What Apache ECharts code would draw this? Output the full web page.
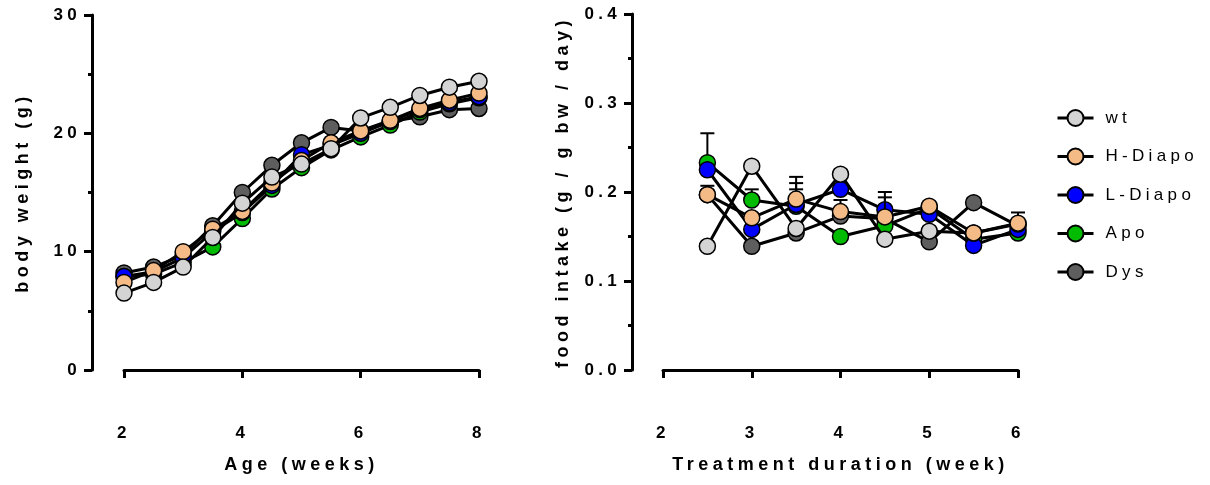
<!DOCTYPE html>
<html><head><meta charset="utf-8">
<script src="https://cdn.jsdelivr.net/npm/echarts@6/dist/echarts.min.js"></script>
<style>html,body{margin:0;padding:0;background:#fff}#c{width:1210px;height:485px}</style>
</head><body><div id="c"></div>
<script>
// letter spacing like the original (Prism-style spaced text)
(function(){
  const p = CanvasRenderingContext2D.prototype, f = p.fillText;
  p.fillText = function(t,x,y,m){
    const o = this.letterSpacing;
    const mm = /(\d+(?:\.\d+)?)px/.exec(this.font || '');
    const s = mm ? parseFloat(mm[1]) : 12;
    try { this.letterSpacing = (s*0.25).toFixed(1)+'px'; } catch(e){}
    const r = m === undefined ? f.call(this,t,x,y) : f.call(this,t,x,y,m);
    try { this.letterSpacing = o; } catch(e){}
    return r;
  };
})();

const groups = ['wt','H-Diapo','L-Diapo','Apo','Dys'];
const colors = ['#d4d4d4','#f5bb86','#0000ff','#00bb00','#5e5e5e'];

const ageWeeks = [2,2.5,3,3.5,4,4.5,5,5.5,6,6.5,7,7.5,8];
const bw_wt = [6.5,7.4,8.7,11.2,14.1,16.3,17.4,18.7,21.3,22.2,23.2,23.9,24.4];
const bw_H  = [7.4,8.4,10.0,11.9,13.4,15.8,17.7,19.2,20.2,21.1,22.1,22.8,23.4];
const bw_L  = [7.9,8.3,9.5,11.7,13.3,15.6,18.2,19.0,20.0,21.0,22.0,22.6,23.1];
const bw_A  = [7.9,8.1,9.1,10.4,12.8,15.3,17.1,18.6,19.7,20.7,21.8,22.5,23.0];
const bw_D  = [8.2,8.7,9.7,12.2,15.0,17.3,19.2,20.5,20.2,21.0,21.4,22.0,22.1];

const treatWeeks = [2.5,3,3.5,4,4.5,5,5.5,6];
const fi_wt = [0.139,0.229,0.159,0.220,0.147,0.156,0.154,0.164];
const fi_H  = [0.197,0.171,0.192,0.178,0.172,0.184,0.154,0.165];
const fi_L  = [0.225,0.158,0.186,0.203,0.180,0.175,0.140,0.158];
const fi_A  = [0.233,0.191,0.184,0.150,0.162,0.182,0.147,0.154];
const fi_D  = [0.197,0.139,0.154,0.173,0.170,0.144,0.188,0.162];
// SEM (upper error bars)
const sem_wt = [0.005,0.005,0.005,0.005,0.005,0.005,0.005,0.005];
const sem_H  = [0.010,0.005,0.025,0.013,0.022,0.005,0.005,0.012];
const sem_L  = [0.005,0.005,0.017,0.005,0.020,0.005,0.005,0.005];
const sem_A  = [0.033,0.012,0.026,0.005,0.005,0.005,0.005,0.005];
const sem_D  = [0.005,0.005,0.005,0.005,0.005,0.005,0.005,0.005];

const yTicksLeft = [0,10,20,30];
const yTicksRight = ['0.0','0.1','0.2','0.3','0.4'];

const bwAll = [bw_wt,bw_H,bw_L,bw_A,bw_D];
const fiAll = [fi_wt,fi_H,fi_L,fi_A,fi_D];
const semAll = [sem_wt,sem_H,sem_L,sem_A,sem_D];

const FONT = 'Liberation Sans, Arial, sans-serif';
const zLeft = [10,9,8,7,6];
const zRight = [9,10,8,7,6];

function labelStyle(extra){
  return Object.assign({color:'#000',fontFamily:FONT,fontWeight:'bold',fontSize:17}, extra||{});
}
function axisCommon(){
  return {
    axisLine:{show:true,lineStyle:{color:'#000',width:3}},
    axisTick:{show:true,length:8,lineStyle:{color:'#000',width:3}},
    splitLine:{show:false},
    nameTextStyle:{color:'#000',fontFamily:FONT,fontWeight:'bold',fontSize:18},
    nameLocation:'middle'
  };
}

const series = [];
groups.forEach((g,i)=>{
  const common = {
    type:'line', name:g, symbol:'circle', symbolSize:16,
    itemStyle:{color:colors[i],borderColor:'#000',borderWidth:1.5},
    lineStyle:{color:'#000',width:3}, animation:false
  };
  series.push(Object.assign({}, common, {xAxisIndex:0,yAxisIndex:0,z:zLeft[i],
    data: ageWeeks.map((x,k)=>[x,bwAll[i][k]])}));
  series.push(Object.assign({}, common, {xAxisIndex:1,yAxisIndex:1,z:zRight[i],
    data: treatWeeks.map((x,k)=>[x,fiAll[i][k]])}));
  series.push({
    type:'custom', name:g+' SEM', xAxisIndex:1, yAxisIndex:1, z:zRight[i]-0.5, animation:false,
    data: treatWeeks.map((x,k)=>[x,fiAll[i][k],semAll[i][k]]),
    renderItem:function(params,api){
      const x=api.value(0), y=api.value(1), e=api.value(2);
      const p0=api.coord([x,y]), p1=api.coord([x,y+e]);
      const st={stroke:'#000',lineWidth:2};
      return {type:'group',children:[
        {type:'line',shape:{x1:p0[0],y1:p0[1],x2:p1[0],y2:p1[1]},style:st},
        {type:'line',shape:{x1:p1[0]-7,y1:p1[1],x2:p1[0]+7,y2:p1[1]},style:st}
      ]};
    }
  });
});

const option = {
  backgroundColor:'#fff',
  animation:false,
  legend:{
    data:groups, orient:'vertical', left:1051, top:104,
    itemWidth:36, itemHeight:20, itemGap:20.5, selectedMode:false,
    lineStyle:{color:'#000',width:3},
    textStyle:{color:'#000',fontFamily:FONT,fontSize:17,padding:[0,0,0,7]}
  },
  grid:[
    {left:124,top:15,width:355,height:355},
    {left:663,top:14,width:355,height:356}
  ],
  xAxis:[
    Object.assign(axisCommon(),{gridIndex:0,type:'value',min:2,max:8,interval:2,offset:31,
      name:'Age (weeks)',nameGap:55,axisLabel:labelStyle({margin:24})}),
    Object.assign(axisCommon(),{gridIndex:1,type:'value',min:2,max:6,interval:1,offset:31,
      name:'Treatment duration (week)',nameGap:55,axisLabel:labelStyle({margin:24})})
  ],
  yAxis:[
    Object.assign(axisCommon(),{gridIndex:0,type:'value',min:0,max:30,interval:10,offset:32,
      name:'body weight (g)',nameGap:60,
      minorTick:{show:true,splitNumber:2,length:4,lineStyle:{color:'#000',width:3}},
      axisLabel:labelStyle({margin:11,
        formatter:v=>String(yTicksLeft[yTicksLeft.indexOf(v)])})}),
    Object.assign(axisCommon(),{gridIndex:1,type:'value',min:0,max:0.4,interval:0.1,offset:31,
      name:'food intake (g / g bw / day)',nameGap:60,
      minorTick:{show:true,splitNumber:2,length:4,lineStyle:{color:'#000',width:3}},
      axisLabel:labelStyle({margin:11,
        formatter:v=>yTicksRight[Math.round(v*10)]})})
  ],
  series:series
};
const chart = echarts.init(document.getElementById('c'),null,{renderer:'canvas'});
chart.setOption(option);
</script></body></html>
